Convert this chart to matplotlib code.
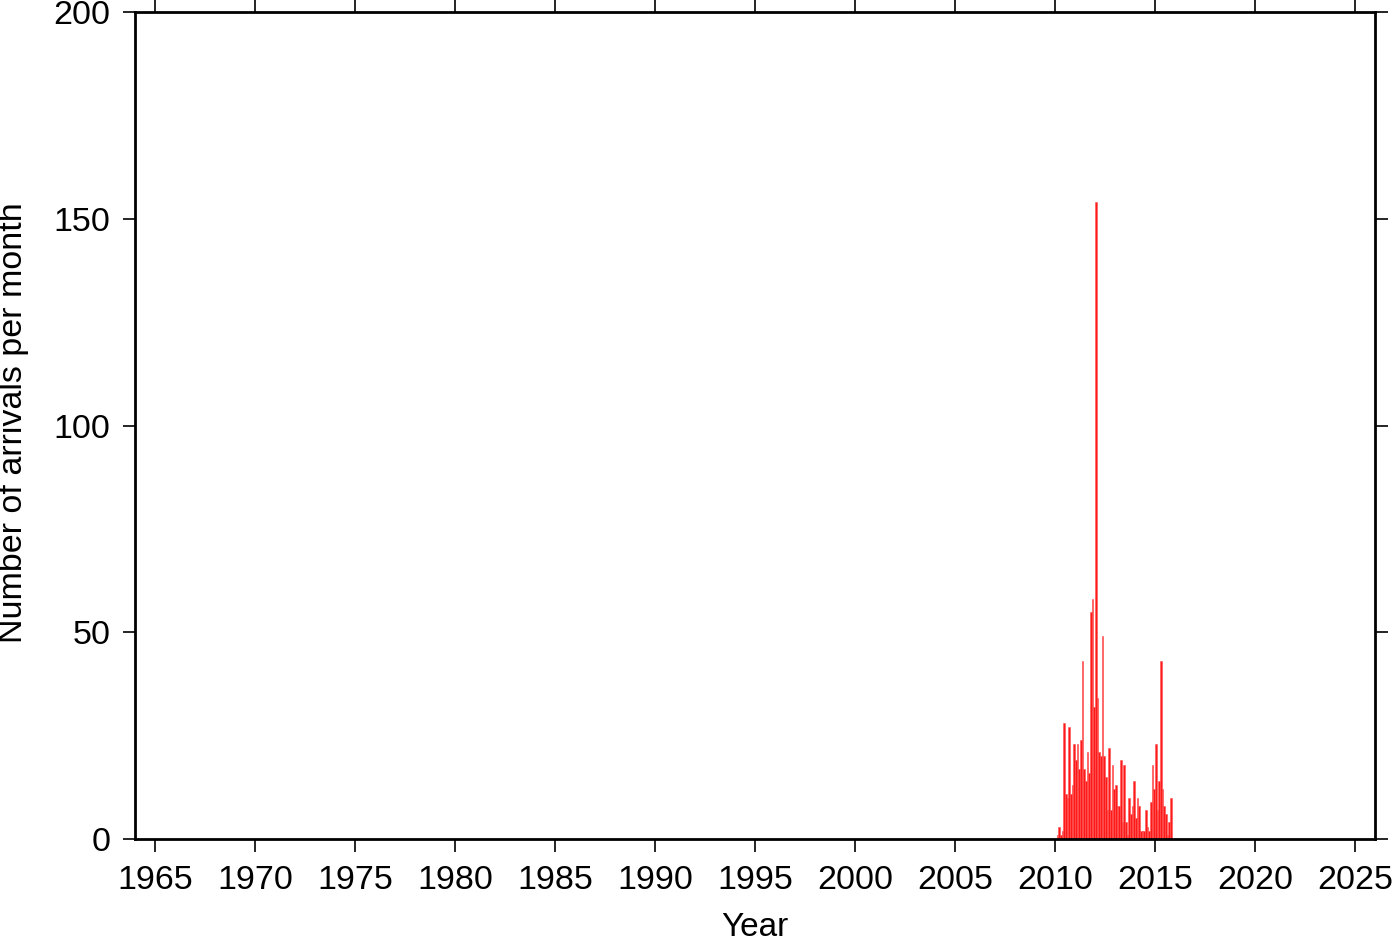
import matplotlib
matplotlib.use("Agg")
import matplotlib.pyplot as plt
import numpy as np

plt.rcParams['font.family'] = ['Liberation Sans', 'DejaVu Sans']

start_year = 2010
start_month = 2  # February 2010
counts = [1, 3, 1, 2, 28, 11, 10, 27, 11, 13, 23, 19, 23, 17, 24, 43, 17, 14, 21, 16,
          55, 58, 32, 154, 34, 21, 20, 49, 20, 15, 7, 22, 7, 18, 12, 13, 8,
          8, 19, 4, 18, 4, 1, 10, 6, 8, 14, 5, 10, 8, 2, 2, 2, 7, 3, 2, 9, 18, 12,
          23, 7, 14, 43, 12, 8, 6, 1, 4, 10]
xticks = list(range(1965, 2026, 5))
yticks = [0, 50, 100, 150, 200]

months = np.arange(len(counts))
x = start_year + (start_month - 1 + months) / 12.0

fig = plt.figure(figsize=(14, 9.42), dpi=100)
ax = fig.add_axes([135/1400, 103/942, 1240/1400, 827/942])
ax.bar(x, counts, width=1/12, align='edge', color='#ff1a1a', edgecolor='#ff5050', linewidth=0.4)
ax.set_xlim(1964, 2026)
ax.set_ylim(0, 200)
ax.set_xticks(xticks)
ax.set_yticks(yticks)
ax.tick_params(axis='both', direction='out', length=9, width=1.2, labelsize=24.5,
               top=True, right=True, labeltop=False, labelright=False)
ax.tick_params(axis='x', pad=10)
ax.tick_params(axis='y', pad=8.5)
for s in ax.spines.values():
    s.set_linewidth(2)
ax.set_xlabel('Year', fontsize=24)
ax.xaxis.set_label_coords(0.5, -0.0885)
ax.set_ylabel('Number of arrivals per month', fontsize=24.5)
ax.yaxis.set_label_coords(-0.0855, 0.504)
fig.savefig('out.png', dpi=100)
